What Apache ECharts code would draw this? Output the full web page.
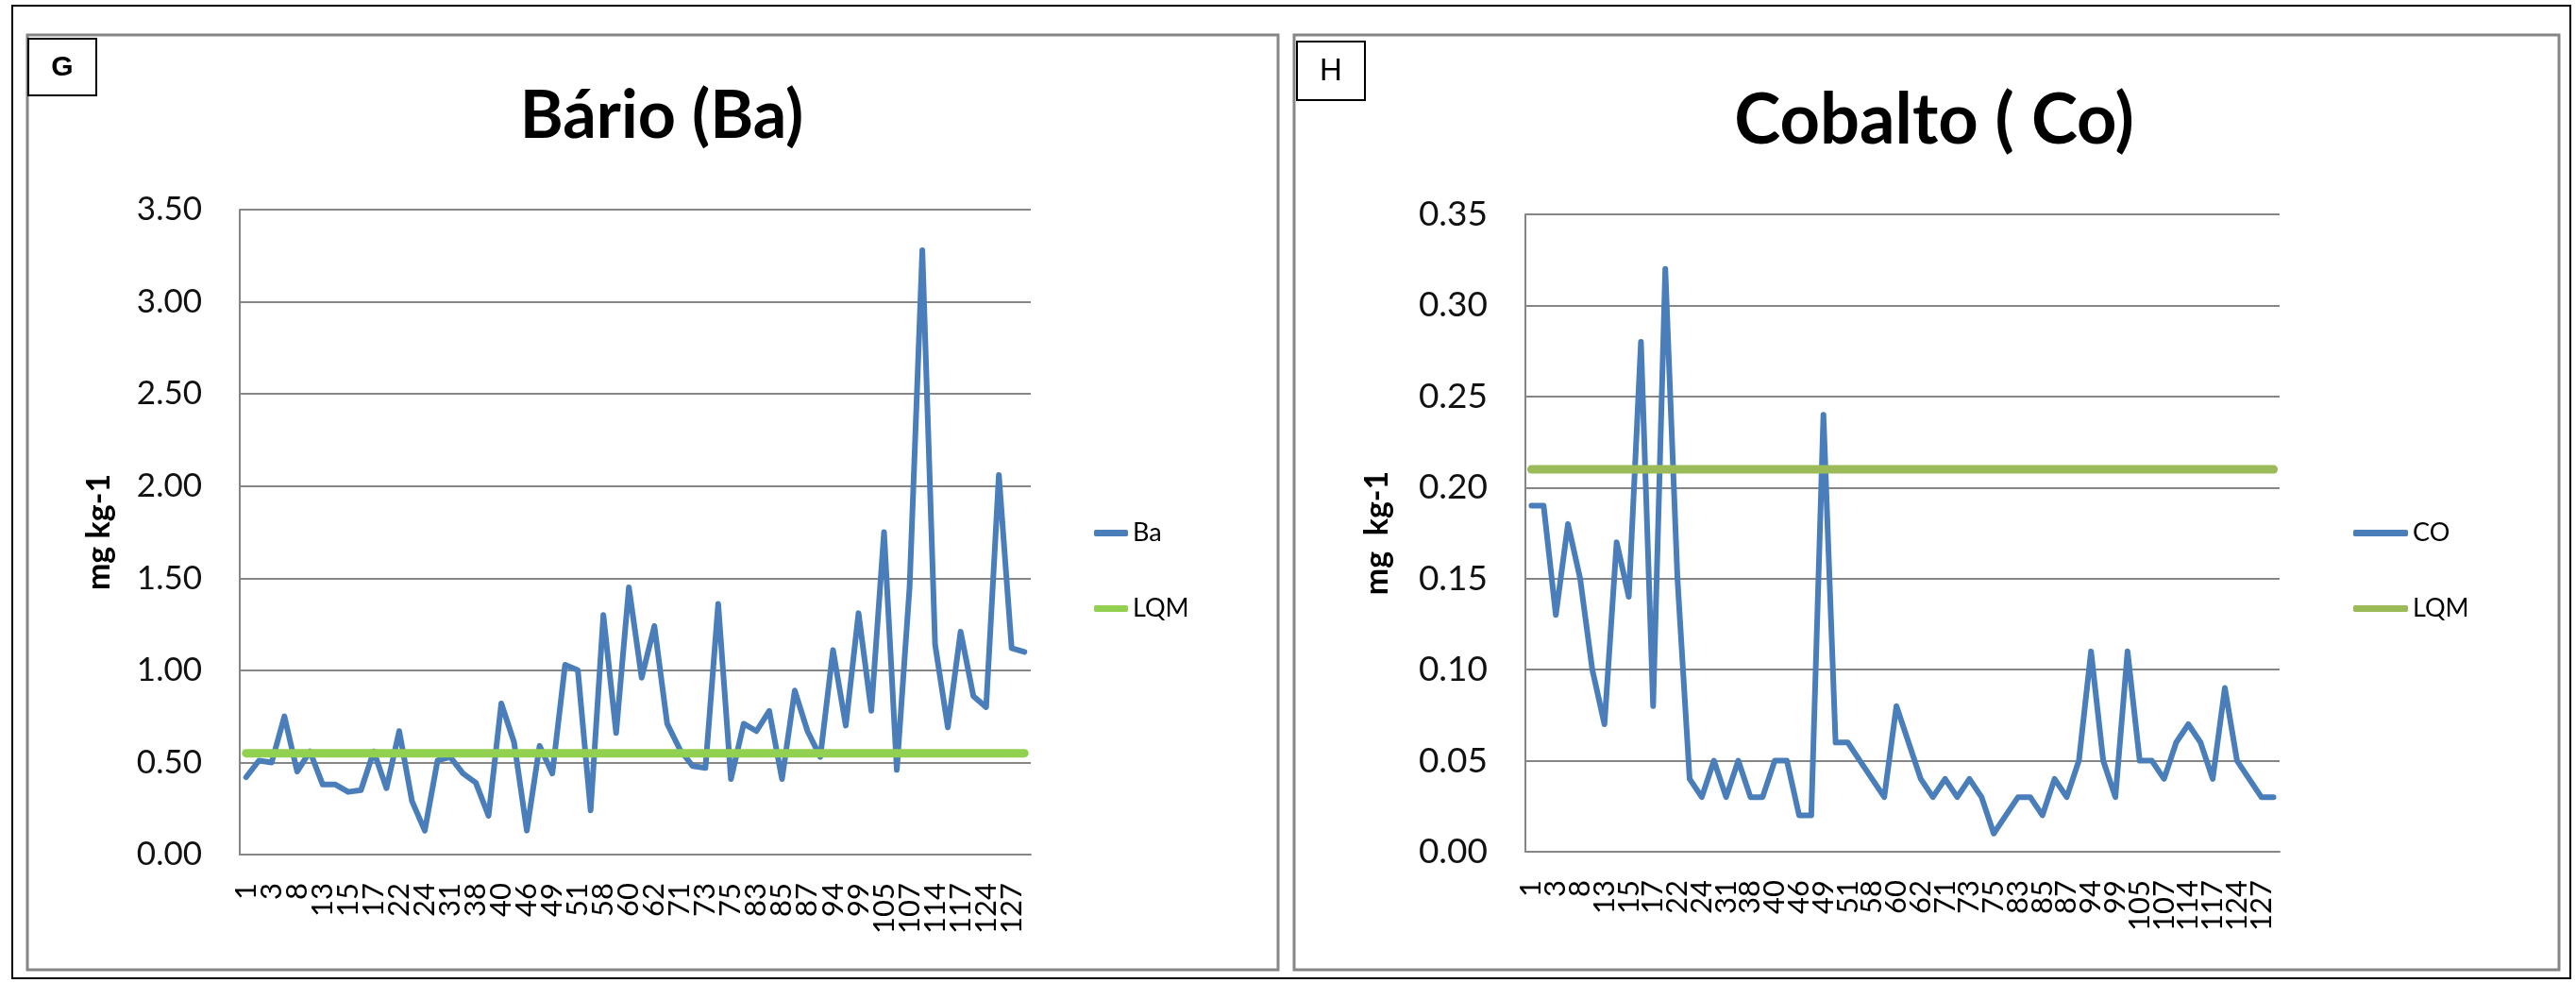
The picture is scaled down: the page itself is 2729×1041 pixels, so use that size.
<!DOCTYPE html>
<html>
<head>
<meta charset="utf-8">
<title>Bário e Cobalto</title>
<script src="https://cdn.jsdelivr.net/npm/echarts@6/dist/echarts.min.js"></script>
<style>
  html, body { margin: 0; padding: 0; background: #fff; }
  #chart { width: 2729px; height: 1041px; }
</style>
</head>
<body>
<div id="chart"></div>
<script>
// sample ids (every other one is printed on the axis)
var sampleIds = ['1', '2', '3', '5', '8', '10', '13', '14', '15', '16', '17', '19', '22', '23', '24', '27',
  '31', '35', '38', '39', '40', '43', '46', '47', '49', '50', '51', '55', '58', '59', '60', '61',
  '62', '66', '71', '72', '73', '74', '75', '79', '83', '84', '85', '86', '87', '90', '94', '96',
  '99', '102', '105', '106', '107', '110', '114', '115', '117', '120', '124', '125', '127', '128']

// mg kg-1
var baValues = [0.42, 0.51, 0.50, 0.75, 0.45, 0.56, 0.38, 0.38, 0.34, 0.35,
  0.56, 0.36, 0.67, 0.29, 0.13, 0.51, 0.53, 0.44, 0.39, 0.21,
  0.82, 0.61, 0.13, 0.59, 0.44, 1.03, 1.00, 0.24, 1.30, 0.66,
  1.45, 0.96, 1.24, 0.71, 0.57, 0.48, 0.47, 1.36, 0.41, 0.71,
  0.67, 0.78, 0.41, 0.89, 0.67, 0.53, 1.11, 0.70, 1.31, 0.78,
  1.75, 0.46, 1.45, 3.28, 1.14, 0.69, 1.21, 0.86, 0.80, 2.06,
  1.12, 1.10]

var coValues = [0.19, 0.19, 0.13, 0.18, 0.15, 0.10, 0.07, 0.17, 0.14, 0.28,
  0.08, 0.32, 0.15, 0.04, 0.03, 0.05, 0.03, 0.05, 0.03, 0.03,
  0.05, 0.05, 0.02, 0.02, 0.24, 0.06, 0.06, 0.05, 0.04, 0.03,
  0.08, 0.06, 0.04, 0.03, 0.04, 0.03, 0.04, 0.03, 0.01, 0.02,
  0.03, 0.03, 0.02, 0.04, 0.03, 0.05, 0.11, 0.05, 0.03, 0.11,
  0.05, 0.05, 0.04, 0.06, 0.07, 0.06, 0.04, 0.09, 0.05, 0.04,
  0.03, 0.03]

var baLqm = 0.55
var coLqm = 0.21

var baTicks = [0, 3.5, 0.5]   // min, max, step
var coTicks = [0, 0.35, 0.05]

var FONT = 'Lato'
var GRID_GRAY = '#868686'
var BLUE = '#4a7ebb'

// LQM drawn from the first to the last sample
function lqmLine(v) {
  return [[sampleIds[0], v], [sampleIds[sampleIds.length - 1], v]]
}

function xAxisFor(gridIndex) {
  return {
    type: 'category',
    gridIndex: gridIndex,
    data: sampleIds,
    boundaryGap: true,
    axisLine: { lineStyle: { color: GRID_GRAY, width: 2 } },
    axisTick: { show: false },
    axisLabel: {
      // every id gets a label slot, only the even ones carry text
      interval: 0,
      showMinLabel: true,
      showMaxLabel: false,
      rotate: 90,
      margin: 30,
      fontFamily: FONT,
      fontSize: 31,
      color: '#000',
      formatter: function (v, i) { return i % 2 === 0 ? v : '' }
    }
  }
}

function yAxisFor(gridIndex, ticks, name, nameGap, fontSize) {
  return {
    type: 'value',
    gridIndex: gridIndex,
    min: ticks[0],
    max: ticks[1],
    interval: ticks[2],
    name: name,
    nameLocation: 'middle',
    nameGap: nameGap,
    nameTextStyle: { fontFamily: FONT, fontWeight: 'bold', fontSize: 34, color: '#000' },
    axisLine: { show: true, lineStyle: { color: GRID_GRAY, width: 2 } },
    axisTick: { show: false },
    splitLine: { lineStyle: { color: GRID_GRAY, width: 2 } },
    axisLabel: {
      margin: 40,
      fontFamily: FONT,
      fontSize: fontSize,
      color: '#111',
      formatter: function (v) { return v.toFixed(2) }
    }
  }
}

function legendFor(names, left, iconWidth) {
  return {
    data: names.map(function (n) { return { name: n, icon: 'roundRect' } }),
    orient: 'vertical',
    left: left,
    top: 546,
    itemGap: 53,
    itemWidth: iconWidth,
    itemHeight: 7,
    textStyle: { fontFamily: FONT, fontSize: 27, color: '#000' },
    formatter: function (n) { return n.trim() }
  }
}

var chart = echarts.init(document.getElementById('chart'))

chart.setOption({
  backgroundColor: '#fff',
  animation: false,
  title: [
    {
      text: 'Bário (Ba)',
      left: 696,
      top: 83,
      textAlign: 'center',
      textStyle: { fontFamily: FONT, fontWeight: 'bold', fontSize: 70, color: '#000' }
    },
    {
      text: 'Cobalto ( Co)',
      left: 2044,
      top: 86,
      textAlign: 'center',
      textStyle: { fontFamily: FONT, fontWeight: 'bold', fontSize: 74, color: '#000' }
    }
  ],
  legend: [
    legendFor(['Ba', 'LQM'], 1154, 36),
    legendFor(['CO', 'LQM '], 2488, 58)
  ],
  grid: [
    { left: 254, right: 1637, top: 222, bottom: 136 },
    { left: 1616, right: 314, top: 227, bottom: 139 }
  ],
  xAxis: [xAxisFor(0), xAxisFor(1)],
  yAxis: [
    yAxisFor(0, baTicks, 'mg kg-1', 132, 35),
    yAxisFor(1, coTicks, 'mg  kg-1', 140, 37)
  ],
  series: [
    {
      name: 'Ba',
      type: 'line',
      xAxisIndex: 0,
      yAxisIndex: 0,
      data: baValues,
      symbol: 'none',
      lineStyle: { color: BLUE, width: 6, join: 'round', cap: 'round' },
      itemStyle: { color: BLUE }
    },
    {
      name: 'LQM',
      type: 'line',
      xAxisIndex: 0,
      yAxisIndex: 0,
      data: lqmLine(baLqm),
      symbol: 'none',
      lineStyle: { color: '#92d050', width: 9, cap: 'round' },
      itemStyle: { color: '#92d050' }
    },
    {
      name: 'CO',
      type: 'line',
      xAxisIndex: 1,
      yAxisIndex: 1,
      data: coValues,
      symbol: 'none',
      lineStyle: { color: BLUE, width: 6, join: 'round', cap: 'round' },
      itemStyle: { color: BLUE }
    },
    {
      name: 'LQM ',
      type: 'line',
      xAxisIndex: 1,
      yAxisIndex: 1,
      data: lqmLine(coLqm),
      symbol: 'none',
      lineStyle: { color: '#9bbb59', width: 9, cap: 'round' },
      itemStyle: { color: '#9bbb59' }
    }
  ],
  graphic: [
    // outer frame
    { type: 'rect', shape: { x: 13, y: 6, width: 2710, height: 1030 }, style: { fill: null, stroke: '#000', lineWidth: 2 }, silent: true },
    // panel borders
    { type: 'rect', shape: { x: 29, y: 37, width: 1325, height: 990 }, style: { fill: null, stroke: GRID_GRAY, lineWidth: 3 }, silent: true },
    { type: 'rect', shape: { x: 1371, y: 37, width: 1340, height: 990 }, style: { fill: null, stroke: GRID_GRAY, lineWidth: 3 }, silent: true },
    // panel letters
    { type: 'rect', shape: { x: 30, y: 41, width: 72, height: 60 }, style: { fill: '#fff', stroke: '#000', lineWidth: 2 }, silent: true },
    { type: 'text', x: 66, y: 72, style: { text: 'G', fontFamily: 'Liberation Sans', fontWeight: 'bold', fontSize: 30, fill: '#000', align: 'center', verticalAlign: 'middle' }, silent: true },
    { type: 'rect', shape: { x: 1374, y: 44, width: 72, height: 62 }, style: { fill: '#fff', stroke: '#000', lineWidth: 2 }, silent: true },
    { type: 'text', x: 1410, y: 76, style: { text: 'H', fontFamily: 'Liberation Sans', fontSize: 33, fill: '#000', align: 'center', verticalAlign: 'middle' }, silent: true }
  ]
})
</script>
</body>
</html>
